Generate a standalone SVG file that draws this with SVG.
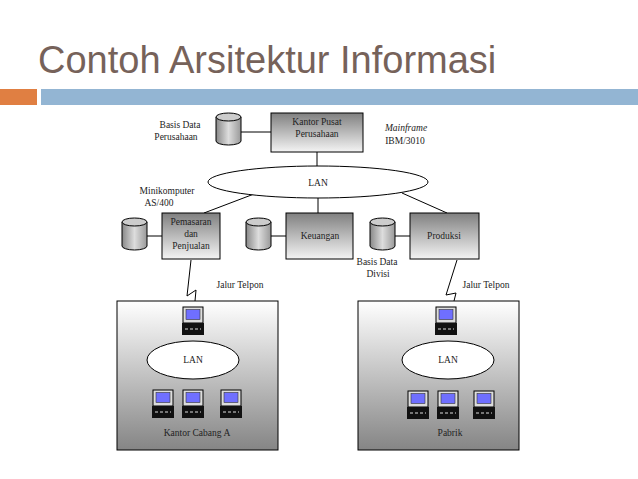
<svg xmlns="http://www.w3.org/2000/svg" width="638" height="479" viewBox="0 0 638 479" font-family="'Liberation Serif', serif">
<defs>
<linearGradient id="gb" x1="0" y1="0" x2="0" y2="1"><stop offset="0" stop-color="#808080"/><stop offset="1" stop-color="#f4f4f4"/></linearGradient>
<linearGradient id="gs" x1="0" y1="0" x2="0" y2="1"><stop offset="0" stop-color="#ffffff"/><stop offset="1" stop-color="#858585"/></linearGradient>
<linearGradient id="gc" x1="0" y1="0" x2="1" y2="0"><stop offset="0" stop-color="#888"/><stop offset="0.5" stop-color="#ddd"/><stop offset="1" stop-color="#999"/></linearGradient>
<g id="db"><path d="M0,4 V28 A12.5,4 0 0 0 25,28 V4" fill="url(#gc)" stroke="#000"/><ellipse cx="12.5" cy="4" rx="12.5" ry="4" fill="#ccc" stroke="#000"/></g>
<g id="pc"><rect x="0" y="0" width="20" height="16" fill="#ddd" stroke="#000"/><rect x="3" y="2.5" width="14" height="10" fill="#6f6fff" stroke="#333" stroke-width="0.6"/><rect x="-1" y="16" width="22" height="12" fill="#111"/><line x1="2" y1="22" x2="18" y2="22" stroke="#ddd" stroke-width="1" stroke-dasharray="3,2"/></g>
<style>text{font-family:"Liberation Serif",serif;font-size:9.5px;fill:#222;text-anchor:middle}.b{fill:url(#gb);stroke:#000}.l{stroke:#000;fill:none}.e{fill:#fff;stroke:#000}</style>
</defs>
<rect width="638" height="479" fill="#fff"/>
<text x="38" y="73" style="font-family:'Liberation Sans',sans-serif;font-size:38px;fill:#76625a;text-anchor:start">Contoh Arsitektur Informasi</text>
<rect x="0" y="89" width="37" height="16" fill="#e07f42"/>
<rect x="41" y="89" width="597" height="16" fill="#93b5d3"/>
<g id="connectors">
<path class="l" d="M240,132H271M317,152V166M254,194L204,213M318,198V213M402,193L447,213M147,236H162M271,236H286M395,236H410"/>
<path class="l" d="M191,260L187,296L196,290L195,301M457,260L446,295L456,293L454,301"/>
<path class="l" d="M193,348V341M446,341V348M170,375L163,390M193,379V390M212,375L225,390M430,376L421,391M448,379V391M465,376L484,391"/>
</g>
<g id="kantor"><rect class="b" x="271" y="113" width="92" height="39"/><text x="317" y="125">Kantor Pusat</text><text x="317" y="137">Perusahaan</text></g>
<g id="dbpusat"><use href="#db" x="216" y="113"/><text x="180" y="128">Basis Data</text><text x="176" y="140">Perusahaan</text></g>
<g id="mainframe"><text x="406" y="131" font-style="italic">Mainframe</text><text x="405" y="144">IBM/3010</text></g>
<g id="lan"><ellipse class="e" cx="318" cy="182" rx="110" ry="16"/><text x="318" y="186">LAN</text></g>
<g id="mini"><text x="167" y="194">Minikomputer</text><text x="159" y="206">AS/400</text></g>
<g id="pemasaran"><rect class="b" x="162" y="213" width="58" height="46"/><text x="191" y="225">Pemasaran</text><text x="191" y="237">dan</text><text x="191" y="249">Penjualan</text><use href="#db" x="122" y="218"/></g>
<g id="keuangan"><rect class="b" x="286" y="213" width="67" height="46"/><text x="320" y="239">Keuangan</text><use href="#db" x="246" y="218"/></g>
<g id="produksi"><rect class="b" x="410" y="213" width="69" height="46"/><text x="444" y="239">Produksi</text><use href="#db" x="370" y="218"/><text x="377" y="265">Basis Data</text><text x="378" y="277">Divisi</text></g>
<text x="240" y="288">Jalur Telpon</text>
<text x="486" y="288">Jalur Telpon</text>
<g id="cabang"><rect x="117" y="301" width="161" height="149" fill="url(#gs)" stroke="#000"/><use href="#pc" x="183" y="307"/><ellipse class="e" cx="193" cy="360" rx="46" ry="19"/><text x="193" y="363">LAN</text><use href="#pc" x="153" y="390"/><use href="#pc" x="183" y="390"/><use href="#pc" x="221" y="390"/><text x="197" y="436">Kantor Cabang A</text></g>
<g id="pabrik"><rect x="358" y="301" width="161" height="149" fill="url(#gs)" stroke="#000"/><use href="#pc" x="436" y="307"/><ellipse class="e" cx="448" cy="360" rx="46" ry="19"/><text x="448" y="363">LAN</text><use href="#pc" x="408" y="391"/><use href="#pc" x="438" y="391"/><use href="#pc" x="474" y="391"/><text x="450" y="436">Pabrik</text></g>
</svg>
